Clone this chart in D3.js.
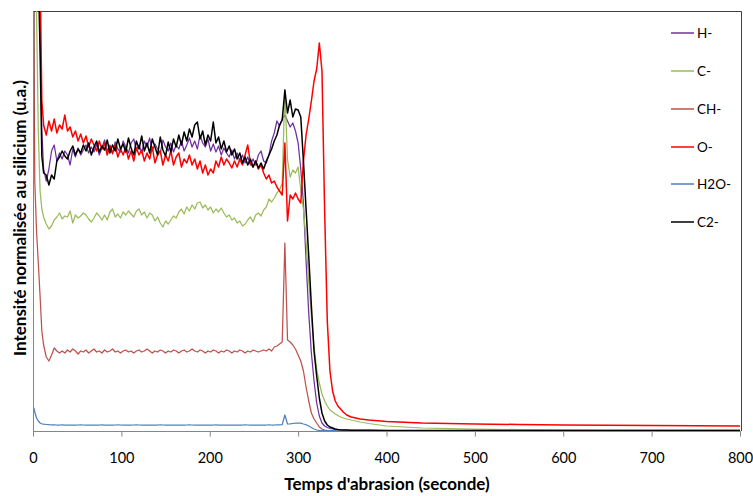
<!DOCTYPE html>
<html><head><meta charset="utf-8">
<script src="https://cdn.jsdelivr.net/npm/d3@7"></script>
<style>body{margin:0;background:#fff}svg{display:block}</style>
</head><body>
<svg id="chart" width="753" height="496"></svg>
<script>
// time (s)
const times = [0,1,2,4,6,8,10,12,
15,18,21,24,27,30,33,36,39,42,
45,48,51,54,57,60,63,66,69,72,
75,78,81,84,87,90,93,96,99,102,
105,108,111,114,117,120,123,126,129,132,
135,138,141,144,147,150,153,156,159,162,
165,168,171,174,177,180,183,186,189,192,
195,198,201,204,207,210,213,216,219,222,
225,228,231,234,237,240,243,246,249,252,
255,258,261,264,267,270,273,276,279,282,
285,288,291,294,297,300,303,306,309,312,
315,318,321,324,327,330,
333,336,339,342,345,348,351,355,360,370,380,400,440,500,550,600,650,700,750,800];

const hMinus = [520,560,560,540,480,400,300,262,
250,262,280,286,270,278,272,280,276,266,
282,274,283,276,281,286,278,284,279,287,
276,283,291,280,286,277,289,282,279,290,
284,278,288,292,281,286,278,290,284,293,
280,287,282,278,291,284,280,288,279,286,
282,290,280,286,293,284,290,282,296,288,
284,292,280,287,279,285,276,283,278,274,
281,272,278,270,276,268,274,266,272,266,
276,280,270,268,276,290,298,310,305,312,
316,310,304,308,300,288,262,228,170,118,
78,50,28,15,8,5,
3.5,2.5,2,1.5,1.2,1,0.9,0.8,0.7,0.6,0.6,0.5,0.5,0.5,0.5,0.5,0.5,0.5,0.5,0.5];

const cMinus = [560,560,540,420,300,240,222,214,
207,202,205,211,214,218,212,215,214,220,
208,216,213,215,218,216,212,209,213,218,
215,211,216,211,219,222,214,217,213,219,
216,220,217,214,220,222,216,219,213,218,
216,210,214,208,204,210,207,211,215,213,
219,222,217,224,220,226,222,228,229,223,
226,221,224,218,222,219,223,218,214,216,
211,213,208,210,205,207,211,214,209,216,
218,215,221,224,232,229,233,238,241,248,
341,271,254,261,258,264,241,222,190,150,
115,85,62,48,37,30,
25,21,19,17,15.5,14,13,12,11,9,7.5,5,3,1.8,1.4,1.2,1.0,1.0,0.9,0.9];

const chMinus = [560,400,250,200,168,135,100,86,
74,70,76,83,80,78,80,78,81,79,
82,80,77,80,79,81,78,80,82,79,
80,78,81,79,80,82,79,80,78,80,
81,79,80,78,80,81,79,80,82,80,
78,80,79,81,80,78,80,79,81,80,
78,80,81,79,80,82,80,79,81,80,
78,80,79,81,80,78,80,79,81,80,
78,80,79,81,80,78,80,79,81,80,
79,80,81,80,82,80,84,85,87,89,
188,91,89,86,82,76,70,60,44,30,
18,12,8,4,2,1,
0.6,0.5,0.5,0.5,0.5,0.5,0.5,0.5,0.5,0.5,0.5,0.5,0.5,0.5,0.5,0.5,0.5,0.5,0.5,0.5];

const oMinus = [480,560,560,560,520,460,330,306,
296,310,300,312,298,306,302,316,300,304,
294,300,290,297,288,295,284,292,286,280,
290,282,288,276,285,278,286,274,282,276,
284,272,280,270,283,276,281,270,278,272,
284,268,276,280,266,276,270,280,266,274,
278,264,272,268,276,266,272,262,270,258,
266,256,262,258,270,264,274,266,272,268,
263,270,264,272,266,276,286,268,264,270,
262,266,258,252,256,248,250,244,240,236,
288,210,236,232,238,232,228,270,296,312,
330,350,362,388,360,220,
110,60,40,30,25,22,19,16,14,12,11,9.5,8,7,6.5,6,5.7,5.4,5.2,5];

const h2oMinus = [18,23,19,13,10,8,7.2,6.8,
6.5,6.3,6.2,6.1,6,6,6.1,5.9,6,6,
6,5.9,6,6.1,6,5.9,6,6,5.9,6,
6,6.1,5.9,6,6,5.9,6,6.1,6,5.9,
6,6,5.9,6,6.1,6,5.9,6,6,6,
5.9,6,6,6.1,6,5.9,6,6,5.9,6,
6,6,5.9,6,6.1,6,5.9,6,6,6,
5.9,6,6,6,6.1,5.9,6,6,6,5.9,
6,6,5.9,6,6,6.1,6,5.9,6,6,
6,5.9,6,6,6.1,6,6,6.1,6.2,6.4,
16,7,7.2,7.5,7.8,8,7.8,7,6.3,5,
3.5,2,1,0.5,0.3,0.3,
0.3,0.3,0.3,0.3,0.3,0.3,0.3,0.3,0.3,0.3,0.3,0.3,0.3,0.3,0.3,0.3,0.3,0.3,0.3,0.3];

const c2Minus = [131,560,560,520,460,380,275,258,
256,246,256,252,270,274,280,275,272,280,
285,276,282,278,286,280,288,276,284,290,
279,285,281,291,278,286,280,292,282,287,
279,293,283,276,290,282,295,280,288,278,
292,284,276,294,281,275,289,279,292,284,
296,286,299,290,302,294,306,309,292,300,
286,296,290,309,288,294,282,290,279,285,
276,282,272,278,268,274,266,272,264,270,
263,268,262,270,276,282,290,296,306,311,
341,318,331,314,322,321,314,270,222,175,
125,80,55,33,18,10,
6,4,3,2,1.5,1.2,1,0.9,0.8,0.7,0.7,0.6,0.6,0.6,0.6,0.6,0.6,0.6,0.6,0.6];

const seriesNames = ["H-","C-","CH-","O-","H2O-","C2-"];
const seriesValues = [hMinus,cMinus,chMinus,oMinus,h2oMinus,c2Minus];
const seriesColors = ["#7030A0","#9BBB59","#C0504D","#FF0000","#4F81BD","#000000"];
const xTicks = [0,100,200,300,400,500,600,700,800];
const xTitle = "Temps d'abrasion (seconde)";
const yTitle = "Intensité normalisée au silicium (u.a.)";

const svg = d3.select("#chart");
const L = 33, R = 741, T = 11, B = 431;
const x = d3.scaleLinear().domain([0, 800]).range([L, 740]);
const y = d3.scaleLinear().domain([0, 420]).range([B, T]);
const font = "Lato, 'Open Sans', sans-serif";

svg.append("rect").attr("width",753).attr("height",496).attr("fill","#fff");

svg.append("defs").append("clipPath").attr("id","clip")
  .append("rect").attr("x",L).attr("y",T).attr("width",R-L).attr("height",B-T);

// plot border (top/right)
svg.append("path").attr("d",`M${L},${T+0.5}H${R+0.5}V${B}`)
  .attr("fill","none").attr("stroke","#404040").attr("stroke-width",1);

const line = d3.line().x((d,i)=>x(times[i])).y(d=>y(d));
const g = svg.append("g").attr("clip-path","url(#clip)");
seriesValues.forEach((vals,k)=>{
  g.append("path").datum(vals).attr("d",line)
    .attr("fill","none").attr("stroke",seriesColors[k])
    .attr("stroke-width", (k===3||k===5)?1.5:1.25)
    .attr("stroke-linejoin","round");
});

// axes
const xAxis = d3.axisBottom(x).tickValues(xTicks).tickSize(5).tickPadding(16).tickSizeOuter(0);
const xg = svg.append("g").attr("transform",`translate(0,${B+0.5})`).call(xAxis);
xg.select(".domain").attr("stroke","#868686").attr("d",`M${L},0H${R}`);
xg.selectAll(".tick line").attr("stroke","#868686");
xg.selectAll("text").attr("font-family",font).attr("font-size",14.5).attr("fill","#000");

svg.append("line").attr("x1",L+0.5).attr("x2",L+0.5).attr("y1",T).attr("y2",B+1)
  .attr("stroke","#868686");

svg.append("text").attr("x",(L+R)/2).attr("y",490).attr("text-anchor","middle")
  .attr("font-family",font).attr("font-weight","bold").attr("font-size",17).text(xTitle);
svg.append("text").attr("transform","translate(26,218) rotate(-90)").attr("text-anchor","middle")
  .attr("font-family",font).attr("font-weight","bold").attr("font-size",17).text(yTitle);

// legend
const legY = [33,71,109,147,184,222];
const lg = svg.append("g");
seriesNames.forEach((n,k)=>{
  lg.append("line").attr("x1",671).attr("x2",694).attr("y1",legY[k]).attr("y2",legY[k])
    .attr("stroke",seriesColors[k]).attr("stroke-width",1.5);
  lg.append("text").attr("x",697).attr("y",legY[k]+4.5).attr("font-family",font)
    .attr("font-size",13.5).attr("fill","#000").text(n);
});
</script>
</body></html>
